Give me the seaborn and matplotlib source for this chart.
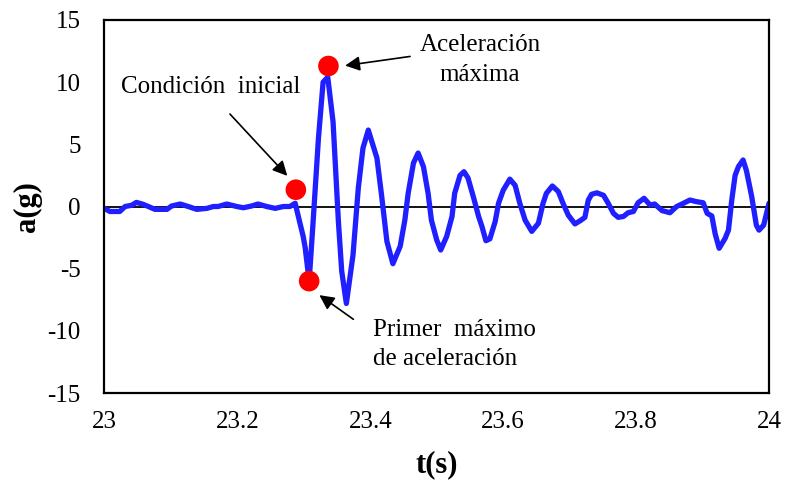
import matplotlib
matplotlib.use("Agg")
import matplotlib.pyplot as plt
import seaborn as sns
import pandas as pd

# ---- data ----
t_s = [23.000, 23.008, 23.023, 23.031, 23.041, 23.048, 23.058, 23.066, 23.076, 23.094,
       23.101, 23.114, 23.126, 23.139, 23.154, 23.164, 23.171, 23.184, 23.199, 23.209,
       23.222, 23.231, 23.244, 23.257, 23.269, 23.279, 23.287, 23.294, 23.299, 23.302,
       23.308, 23.314, 23.322, 23.329, 23.336, 23.344, 23.352, 23.357, 23.364, 23.374,
       23.382, 23.389, 23.397, 23.410, 23.417, 23.425, 23.434, 23.445, 23.452, 23.457,
       23.465, 23.472, 23.480, 23.487, 23.492, 23.500, 23.506, 23.515, 23.523, 23.527,
       23.535, 23.541, 23.547, 23.555, 23.563, 23.568, 23.574, 23.580, 23.588, 23.593,
       23.600, 23.610, 23.618, 23.625, 23.633, 23.643, 23.653, 23.660, 23.665, 23.674,
       23.683, 23.690, 23.698, 23.708, 23.716, 23.723, 23.728, 23.733, 23.741, 23.751,
       23.758, 23.766, 23.773, 23.781, 23.788, 23.796, 23.803, 23.812, 23.821, 23.828,
       23.839, 23.851, 23.861, 23.869, 23.881, 23.891, 23.901, 23.907, 23.914, 23.919,
       23.925, 23.934, 23.939, 23.944, 23.949, 23.954, 23.961, 23.966, 23.974, 23.981,
       23.985, 23.992, 24.000]
a_g = [-0.15, -0.4, -0.4, 0.0, 0.1, 0.33, 0.18, 0.0, -0.23, -0.23,
       0.04, 0.2, 0.0, -0.23, -0.15, 0.0, 0.0, 0.2, 0.0, -0.1,
       0.05, 0.2, 0.0, -0.15, 0.0, 0.0, 0.26, -1.3, -2.4, -3.3,
       -6.0, -1.2, 5.5, 10.0, 10.4, 6.8, -1.2, -5.2, -7.8, -3.9,
       1.5, 4.7, 6.15, 3.9, 0.9, -2.8, -4.6, -3.2, -1.1, 1.06,
       3.5, 4.3, 3.2, 1.06, -1.1, -2.7, -3.5, -2.4, -0.8, 1.06,
       2.5, 2.8, 2.3, 0.8, -0.8, -1.6, -2.75, -2.6, -1.2, 0.26,
       1.3, 2.2, 1.7, 0.26, -1.1, -2.0, -1.35, 0.26, 1.06, 1.65,
       1.2, 0.26, -0.7, -1.4, -1.14, -0.87, 0.5, 0.98, 1.1, 0.9,
       0.26, -0.55, -0.87, -0.8, -0.5, -0.4, 0.3, 0.66, 0.12, 0.2,
       -0.33, -0.5, 0.0, 0.2, 0.52, 0.39, 0.3, -0.55, -0.76, -2.2,
       -3.36, -2.56, -1.9, 0.52, 2.5, 3.2, 3.74, 2.9, 0.8, -1.5,
       -1.9, -1.5, 0.26]

point_t = [23.288, 23.308, 23.337]
point_a = [1.35, -6.0, 11.3]

x_ticks = [23, 23.2, 23.4, 23.6, 23.8, 24]
y_ticks = [-15, -10, -5, 0, 5, 10, 15]

df = pd.DataFrame({"t": t_s, "a": a_g})
pts = pd.DataFrame({"t": point_t, "a": point_a})

sns.set_style("white")
plt.rcParams["font.family"] = ["Liberation Serif", "DejaVu Serif"]
plt.rcParams["text.color"] = "black"
plt.rcParams["axes.labelcolor"] = "black"

fig = plt.figure(figsize=(7.85, 4.83), dpi=100)
ax = fig.add_axes([0.1331, 0.1863, 0.8465, 0.7723])

ax.axhline(0, color="black", lw=1.3, zorder=1)
sns.lineplot(data=df, x="t", y="a", ax=ax, color="#1f1fff", lw=3.8,
             sort=False, estimator=None, zorder=2,
             solid_joinstyle="round", solid_capstyle="round")
sns.scatterplot(data=pts, x="t", y="a", ax=ax, color="#ff0000", s=220,
                edgecolor="none", zorder=3)

ax.set_xlim(23, 24)
ax.set_ylim(-15, 15)
ax.set_xticks(x_ticks)
ax.set_xticklabels(["23", "23.2", "23.4", "23.6", "23.8", "24"])
ax.set_yticks(y_ticks)
ax.set_yticklabels([str(v) for v in y_ticks])
ax.tick_params(axis="both", length=0, labelsize=18, colors="black")
ax.tick_params(axis="x", pad=13)
ax.tick_params(axis="y", pad=17)
for s in ax.spines.values():
    s.set_color("black")
    s.set_linewidth(1.6)

ax.set_xlabel("t(s)", fontsize=22, fontweight="bold", labelpad=12, color="black")
ax.set_ylabel("a(g)", fontsize=22, fontweight="bold", labelpad=4, color="black")

arrow = dict(arrowstyle="-|>", color="black", lw=1.2, mutation_scale=22)
ax.annotate("Condición  inicial", xy=(23.279, 2.2), xytext=(23.16, 9.6),
            fontsize=18, ha="center", va="center", color="black")
ax.annotate("", xy=(23.278, 2.3), xytext=(23.186, 7.6), arrowprops=arrow)

ax.text(23.565, 13.0, "Aceleración", fontsize=18, ha="center", va="center", color="black")
ax.text(23.565, 10.6, "máxima", fontsize=18, ha="center", va="center", color="black")
ax.annotate("", xy=(23.358, 11.3), xytext=(23.464, 12.1), arrowprops=arrow)

ax.text(23.404, -9.9, "Primer  máximo", fontsize=18, ha="left", va="center", color="black")
ax.text(23.404, -12.3, "de aceleración", fontsize=18, ha="left", va="center", color="black")
ax.annotate("", xy=(23.320, -7.0), xytext=(23.378, -9.2), arrowprops=arrow)

fig.savefig("out.png", dpi=100)
